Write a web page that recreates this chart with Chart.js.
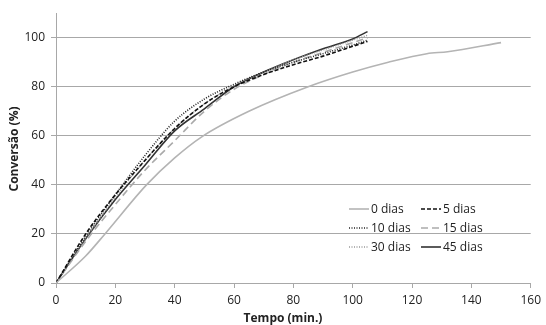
<!DOCTYPE html>
<html>
<head>
<meta charset="utf-8">
<script src="https://cdn.jsdelivr.net/npm/chart.js@4/dist/chart.umd.min.js"></script>
<style>
    html, body { margin: 0; padding: 0; background: #fff; }
    #wrap { width: 546px; height: 325px; }
</style>
</head>
<body>
<div id="wrap"><canvas id="conv-chart"></canvas></div>
<script>
// tempos (min) e conversões (%)
const tempo0 = [0, 10, 16.5, 30.5, 40, 49, 65, 85, 100, 112, 125, 132, 150];
const dias0 = [0, 11, 20, 40, 51, 59.5, 70, 80, 86, 90, 93.5, 94.3, 98];

const tempo = [0, 10, 20, 30, 40, 50, 60, 70, 80, 90, 100, 105];
const dias5 = [0, 20, 36, 50, 63, 73, 80, 85, 89, 92.5, 96.5, 98.5];
const dias10 = [0, 19, 36, 52, 66, 75, 81, 86, 90, 93.5, 97, 99];
const dias15 = [0, 17, 32, 46, 58, 70, 79, 85, 90, 94, 98, 100];
const dias30 = [0, 18, 35, 50, 63, 73, 80.5, 86, 91, 95, 99, 101];
const dias45 = [0, 18, 34, 48, 62, 71, 80, 86, 91, 95.5, 99.5, 102.5];

const xTicks = [0, 20, 40, 60, 80, 100, 120, 140, 160];
const yTicks = [0, 20, 40, 60, 80, 100];

const FONT = '"Open Sans", "Liberation Sans", sans-serif';

function pts(xs, ys) {
    return xs.map((x, i) => ({ x: x, y: ys[i] }));
}

const series = [
    { label: '0 dias', data: pts(tempo0, dias0), borderColor: '#b4b4b4', borderDash: [], borderWidth: 1.6 },
    { label: '5 dias', data: pts(tempo, dias5), borderColor: '#111', borderDash: [4, 2], borderWidth: 1.6 },
    { label: '10 dias', data: pts(tempo, dias10), borderColor: '#222', borderDash: [1, 1.5], borderWidth: 1.6 },
    { label: '15 dias', data: pts(tempo, dias15), borderColor: '#aaa', borderDash: [7, 4], borderWidth: 1.6 },
    { label: '30 dias', data: pts(tempo, dias30), borderColor: '#999', borderDash: [1, 1.5], borderWidth: 1.4 },
    { label: '45 dias', data: pts(tempo, dias45), borderColor: '#333', borderDash: [], borderWidth: 1.6 }
];

// legenda em duas colunas dentro da área do gráfico + títulos dos eixos
const extras = {
    id: 'extras',
    afterDraw(chart) {
        const c = chart.ctx;
        c.save();
        c.font = '12px ' + FONT;
        c.textBaseline = 'middle';
        c.fillStyle = '#222';
        chart.data.datasets.forEach((ds, i) => {
            const col = i % 2, row = Math.floor(i / 2);
            const tx = col === 0 ? 371 : 443;
            const y = 209 + row * 19;
            c.strokeStyle = ds.borderColor;
            c.lineWidth = ds.borderWidth;
            c.setLineDash(ds.borderDash);
            c.beginPath();
            c.moveTo(tx - 22, y);
            c.lineTo(tx - 2, y);
            c.stroke();
            c.setLineDash([]);
            c.fillText(ds.label, tx, y + 1);
        });
        c.font = 'bold 12px ' + FONT;
        c.textAlign = 'center';
        c.fillText('Tempo (min.)', 283, 319);
        c.translate(15, 149);
        c.rotate(-Math.PI / 2);
        c.fillText('Conversão (%)', 0, 0);
        c.restore();
    }
};

const ctx = document.getElementById('conv-chart').getContext('2d');
new Chart(ctx, {
    type: 'line',
    data: {
        datasets: series.map(s => ({
            label: s.label,
            data: s.data,
            borderColor: s.borderColor,
            borderDash: s.borderDash,
            borderWidth: s.borderWidth,
            pointRadius: 0,
            fill: false,
            cubicInterpolationMode: 'monotone'
        }))
    },
    options: {
        responsive: true,
        maintainAspectRatio: false,
        animation: false,
        layout: { padding: { left: 0, right: 14, top: 12, bottom: 0 } },
        plugins: { legend: { display: false }, tooltip: { enabled: false } },
        scales: {
            x: {
                type: 'linear',
                min: 0,
                max: 160,
                afterBuildTicks: s => { s.ticks = xTicks.map(v => ({ value: v })); },
                afterFit: s => { s.height = 42; },
                grid: { drawOnChartArea: false, color: '#a8a8a8', tickLength: 5 },
                border: { color: '#a8a8a8' },
                ticks: { color: '#222', font: { family: FONT, size: 12 }, padding: 5, maxRotation: 0 }
            },
            y: {
                min: 0,
                max: 110,
                afterBuildTicks: s => { s.ticks = yTicks.map(v => ({ value: v })); },
                afterFit: s => { s.width = 56; },
                grid: { color: '#a8a8a8', tickLength: 5 },
                border: { color: '#a8a8a8' },
                ticks: { color: '#222', font: { family: FONT, size: 12 }, padding: 6 }
            }
        }
    },
    plugins: [extras]
});
</script>
</body>
</html>
